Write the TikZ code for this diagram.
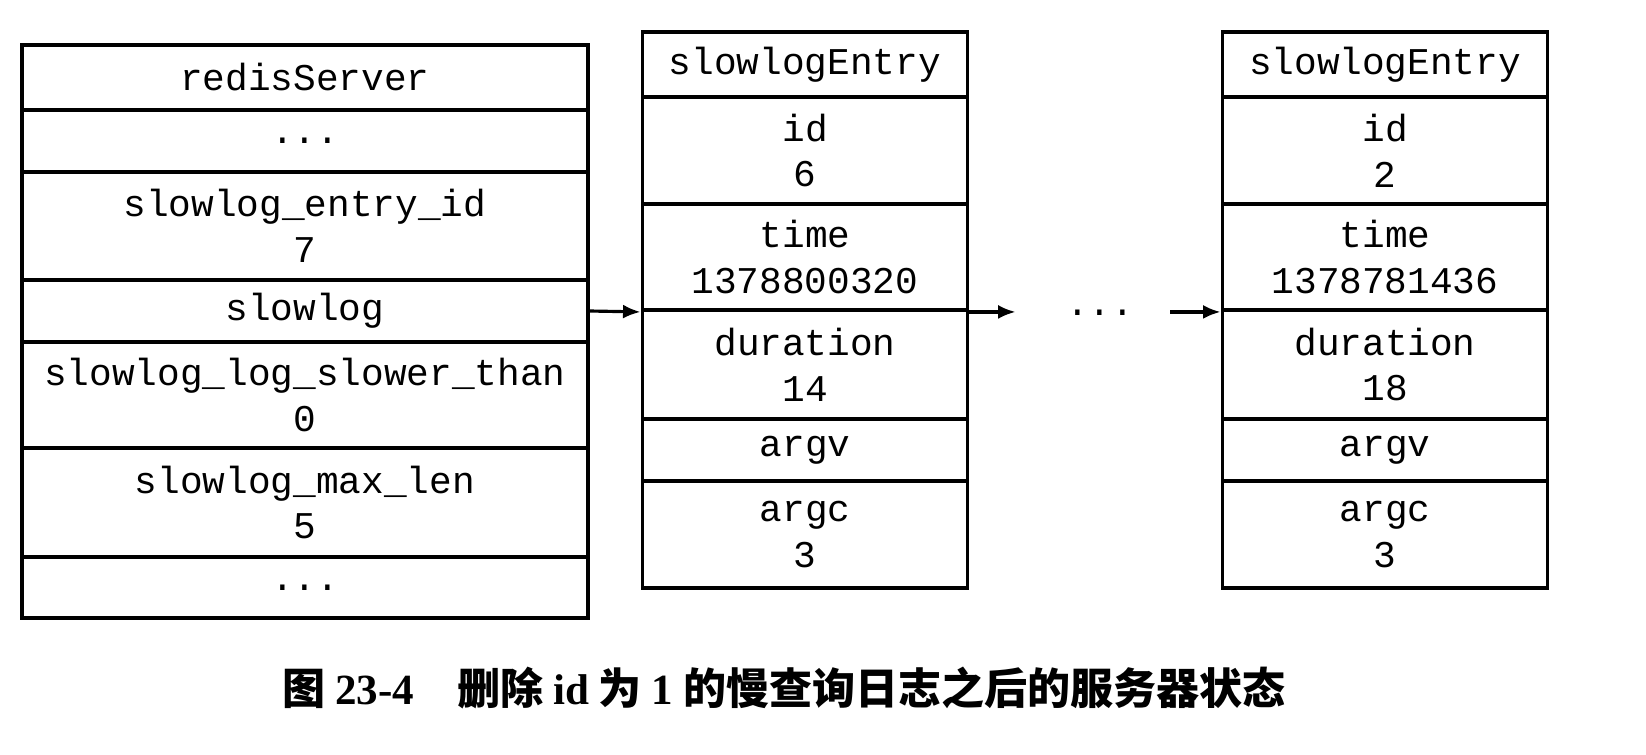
\documentclass[tikz,border=0pt]{standalone}
\usepackage{fontspec}
\usetikzlibrary{arrows.meta}
\setmonofont{Liberation Mono}
\newfontfamily\cjk{Noto Sans CJK SC}
\newfontfamily\capserif{Liberation Serif}
\newcommand{\tdots}{...}
\begin{document}
\begin{tikzpicture}[x=0.02cm, y=-0.02cm, font=\ttfamily\fontsize{21.5}{26}\selectfont]
	\useasboundingbox (0,0) rectangle (1646,754);
	\tikzset{field/.style={draw=black, line width=2.2pt, inner sep=0pt, align=center},
		link/.style={-{Latex[length=10pt, width=8pt]}, line width=1.8pt}}
	
	% redisServer
	\foreach \n/\p/\q/\l in {{1/45/110/redisServer}, {2/110/172/\tdots}, {3/172/280/slowlog\_entry\_id\\7}, {4/280/342/slowlog}, {5/342/448/slowlog\_log\_slower\_than\\0}, {6/448/557/slowlog\_max\_len\\5}, {7/557/618/\tdots}}
	{
		\node[field, minimum width=11.32cm, minimum height={(\q-\p)*0.02cm}] (s\n) at (305, {(\p+\q)/2}) {\l};
	}
	
	% slowlogEntry
	\foreach \e/\x/\id/\tm/\du in {a/805/6/1378800320/14, b/1385/2/1378781436/18}
	{
		\foreach \n/\p/\q/\l in {{1/32/97/slowlogEntry}, {2/97/204/id\\\id}, {3/204/310/time\\\tm}, {4/310/419/duration\\\du}, {5/419/481/argv}, {6/481/588/argc\\3}}
		{
			\node[field, minimum width=6.5cm, minimum height={(\q-\p)*0.02cm}] (\e\n) at (\x, {(\p+\q)/2}) {\l};
		}
	}
	
	\node[inner sep=0pt] (dots) at (1100, 313) {\tdots};
	
	\draw[link] (s4.east) -- (a3.south west);
	\draw[link, shorten >=1cm] (a3.south east) -- (dots.west |- a3.south);
	\draw[link, shorten <=0.72cm] (dots.east |- b3.south) -- (b3.south west);
	
	\node[font=\cjk\bfseries\fontsize{24.5}{28}\selectfont] (caption) at (784, 688) {图 {\capserif\bfseries 23-4}\quad 删除 {\capserif\bfseries id} 为 {\capserif\bfseries 1} 的慢查询日志之后的服务器状态};
	
\end{tikzpicture}
\end{document}
